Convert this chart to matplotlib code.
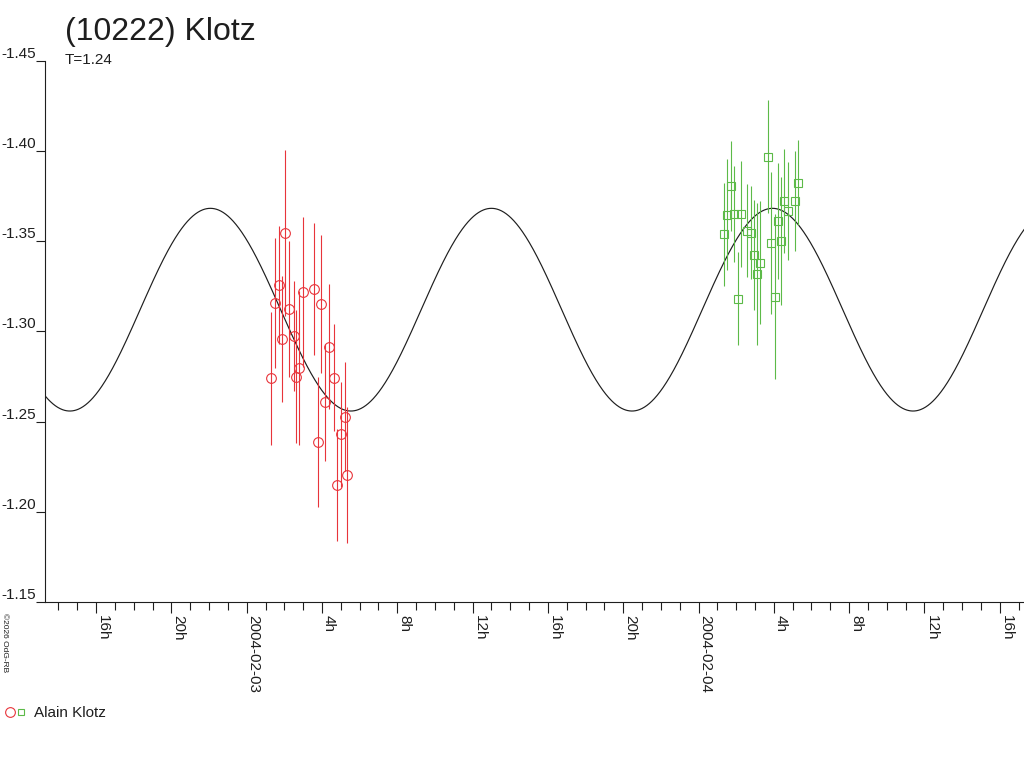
import numpy as np
import matplotlib
matplotlib.use("Agg")
import matplotlib.pyplot as plt
from matplotlib.lines import Line2D
from matplotlib.legend_handler import HandlerTuple

plt.rcParams['font.family'] = ['Liberation Sans', 'DejaVu Sans']

# time in hours since 2004-02-03 00:00 UT, magnitude and 1-sigma error
red_t = [1.31, 1.52, 1.70, 1.89, 2.05, 2.23, 2.50, 2.64, 2.78, 2.99,
         3.59, 3.79, 3.95, 4.14, 4.36, 4.65, 4.81, 5.03, 5.21, 5.34]
red_mag = [-1.2740, -1.3160, -1.3258, -1.2957, -1.3546, -1.3123, -1.2975, -1.2749, -1.2799, -1.3217,
           -1.3234, -1.2389, -1.3152, -1.2607, -1.2916, -1.2744, -1.2150, -1.2430, -1.2528, -1.2206]
red_err = [0.0370, 0.0360, 0.0327, 0.0349, 0.0460, 0.0377, 0.0305, 0.0369, 0.0427, 0.0416,
           0.0366, 0.0360, 0.0383, 0.0324, 0.0348, 0.0298, 0.0311, 0.0292, 0.0302, 0.0377]

green_t = [25.34, 25.50, 25.73, 25.87, 26.10, 26.26, 26.56, 26.81, 26.95, 27.11,
           27.28, 27.69, 27.83, 28.06, 28.22, 28.40, 28.56, 28.77, 29.13, 29.29]
green_mag = [-1.3539, -1.3648, -1.3807, -1.3653, -1.3182, -1.3652, -1.3559, -1.3548, -1.3424, -1.3319,
             -1.3382, -1.3969, -1.3491, -1.3193, -1.3613, -1.3504, -1.3722, -1.3670, -1.3725, -1.3825]
green_err = [0.0287, 0.0309, 0.0250, 0.0266, 0.0257, 0.0296, 0.0259, 0.0259, 0.0305, 0.0395,
             0.0342, 0.0314, 0.0392, 0.0456, 0.0320, 0.0355, 0.0288, 0.0272, 0.0276, 0.0237]

# fitted light-curve model (sinusoid), parameters
period_h = 14.93
t_max_h = 13.0
mean_mag = -1.3121
amp_mag = 0.0562

y_ticks = [-1.45, -1.40, -1.35, -1.30, -1.25, -1.20, -1.15]
x_major = [-8, -4, 0, 4, 8, 12, 16, 20, 24, 28, 32, 36, 40]
x_major_labels = ['16h', '20h', '2004-02-03', '4h', '8h', '12h', '16h', '20h',
                  '2004-02-04', '4h', '8h', '12h', '16h']
x_minor = list(range(-10, 42))

RED = '#e8343a'
GREEN = '#5cba48'
INK = '#1e1e1e'

fig = plt.figure(figsize=(10.24, 7.68), dpi=100)
ax = fig.add_axes([45 / 1024, 166 / 768, 979 / 1024, 541 / 768])

xmin, xmax = -10.715, 41.29
tt = np.linspace(xmin, xmax, 2000)
ax.plot(tt, mean_mag - amp_mag * np.cos(2 * np.pi * (tt - t_max_h) / period_h),
        color=INK, lw=0.85, zorder=2)

ax.errorbar(red_t, red_mag, yerr=red_err, fmt='o', ms=7.0, mfc='none', mec=RED,
            mew=0.8, ecolor=RED, elinewidth=0.8, capsize=0, zorder=3)
ax.errorbar(green_t, green_mag, yerr=green_err, fmt='s', ms=5.3, mfc='none', mec=GREEN,
            mew=0.8, ecolor=GREEN, elinewidth=0.8, capsize=0, zorder=3)

ax.set_xlim(xmin, xmax)
ax.set_ylim(-1.15, -1.45)

for s in ['top', 'right']:
    ax.spines[s].set_visible(False)
for s in ['left', 'bottom']:
    ax.spines[s].set_color(INK)
    ax.spines[s].set_linewidth(0.8)

ax.set_yticks(y_ticks)
ax.set_yticklabels(['%.2f' % v for v in y_ticks])
ax.set_xticks(x_major)
ax.set_xticklabels(x_major_labels)
ax.set_xticks(x_minor, minor=True)

ax.tick_params(axis='y', length=6.5, width=0.8, color=INK, pad=0, labelsize=11, labelcolor=INK)
ax.tick_params(axis='x', which='major', length=7.9, width=0.8, color=INK, pad=1.5,
               labelsize=11, labelcolor=INK, labelrotation=270)
ax.tick_params(axis='x', which='minor', length=5.8, width=0.8, color=INK)
for lb in ax.get_yticklabels():
    lb.set_verticalalignment('bottom')
for lb in ax.get_xticklabels():
    lb.set_horizontalalignment('left')
    lb.set_verticalalignment('top')

fig.text(65 / 1024, 1 - 40 / 768, '(10222) Klotz', fontsize=23, color=INK, va='baseline')
fig.text(65 / 1024, 1 - 64 / 768, 'T=1.24', fontsize=11, color=INK, va='baseline')
fig.text(1 / 1024, 1 - 613 / 768, '\u00a92026 OdG-RB', fontsize=6, color=INK,
         rotation=270, ha='left', va='top')

h_red = Line2D([], [], ls='none', marker='o', ms=7.0, mfc='none', mec=RED, mew=0.8)
h_green = Line2D([], [], ls='none', marker='s', ms=5.0, mfc='none', mec=GREEN, mew=0.8)
leg = fig.legend([(h_red, h_green)], ['Alain Klotz'],
                 handler_map={tuple: HandlerTuple(ndivide=None, pad=0)},
                 loc='center left', bbox_to_anchor=(4 / 1024, 1 - 713 / 768),
                 frameon=False, fontsize=11, handlelength=1.45, handletextpad=0.52,
                 borderpad=0, borderaxespad=0)
for t in leg.get_texts():
    t.set_color(INK)

fig.savefig('out.png', dpi=100)
